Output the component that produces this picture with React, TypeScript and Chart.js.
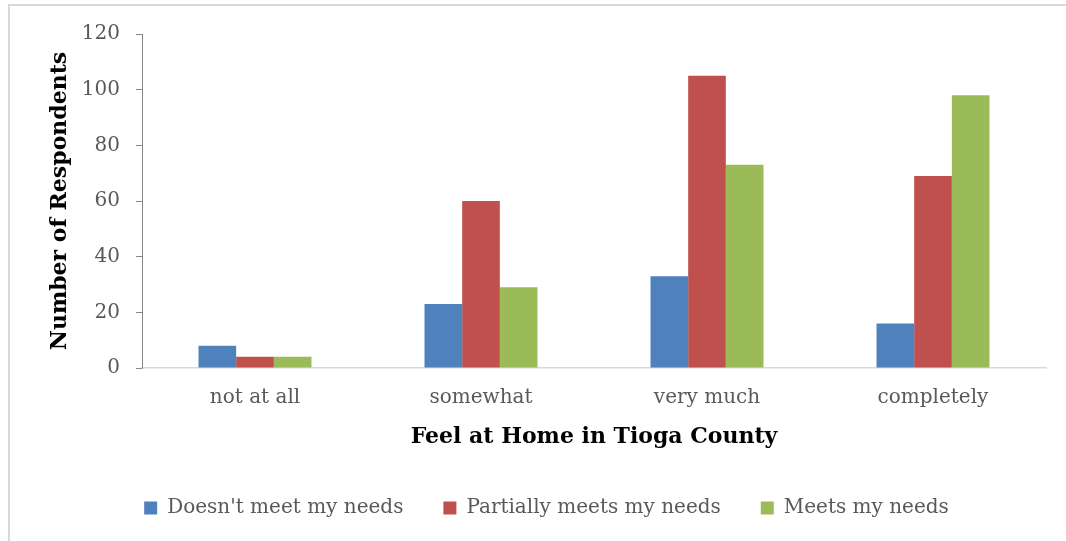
import React, { useEffect, useRef } from "react";
import { Chart, registerables } from "chart.js";

Chart.register(...registerables);

const categories = ["not at all", "somewhat", "very much", "completely"];
const seriesNames = ["Doesn't meet my needs", "Partially meets my needs", "Meets my needs"];
const doesntMeet = [8, 23, 33, 16];
const partiallyMeets = [4, 60, 105, 69];
const meets = [4, 29, 73, 98];
const seriesColors = ["#4F81BD", "#C0504D", "#9BBB59"];
const yTitle = "Number of Respondents";
const xTitle = "Feel at Home in Tioga County";

const FONT = "'DejaVu Serif', serif";

export default function App() {
  const ref = useRef<HTMLCanvasElement | null>(null);

  useEffect(() => {
    if (!ref.current) return;
    const values = [doesntMeet, partiallyMeets, meets];
    const chart = new Chart(ref.current, {
      type: "bar",
      data: {
        labels: categories,
        datasets: seriesNames.map((name, i) => ({
          label: name,
          data: values[i],
          backgroundColor: seriesColors[i],
          borderWidth: 0,
          categoryPercentage: 0.5,
          barPercentage: 1.0,
        })),
      },
      options: {
        responsive: false,
        animation: false,
        layout: { padding: { left: 47, right: 20, top: 34, bottom: 13 } },
        plugins: {
          tooltip: { enabled: false },
          legend: {
            position: "bottom",
            labels: {
              boxWidth: 13,
              boxHeight: 13,
              padding: 40,
              color: "#595959",
              font: { family: FONT, size: 20 },
            },
          },
        },
        scales: {
          x: {
            grid: { display: false, drawTicks: false },
            border: { display: true, color: "#d9d9d9", width: 1.5 },
            ticks: {
              color: "#595959",
              padding: 18,
              font: { family: FONT, size: 20 },
            },
            title: {
              display: true,
              text: xTitle,
              color: "#000000",
              font: { family: FONT, size: 22, weight: "bold" },
              padding: { top: 14, bottom: 8 },
            },
            afterFit: (scale: any) => {
              scale.height = 90;
            },
          },
          y: {
            min: 0,
            max: 120,
            ticks: {
              stepSize: 20,
              color: "#595959",
              padding: 16,
              font: { family: FONT, size: 20 },
            },
            grid: {
              drawOnChartArea: false,
              drawTicks: true,
              tickLength: 6,
              color: "#868686",
            },
            border: { display: true, color: "#868686", width: 1 },
            title: {
              display: true,
              text: yTitle,
              color: "#000000",
              font: { family: FONT, size: 22, weight: "bold" },
              padding: { top: 0, bottom: 0 },
            },
            afterFit: (scale: any) => {
              scale.width = 95;
            },
          },
        },
      },
    });
    return () => chart.destroy();
  }, []);

  return (
    <div style={{ position: "absolute", left: 0, top: 0, width: 1066, height: 541, overflow: "hidden", background: "#ffffff" }}>
      <canvas ref={ref} width={1066} height={541} style={{ position: "absolute", left: 0, top: 0 }} />
      <div
        style={{
          position: "absolute",
          left: 8,
          top: 4,
          width: 1200,
          height: 700,
          borderTop: "2px solid #d9d9d9",
          borderLeft: "2px solid #d9d9d9",
          boxSizing: "border-box",
          pointerEvents: "none",
        }}
      />
    </div>
  );
}
